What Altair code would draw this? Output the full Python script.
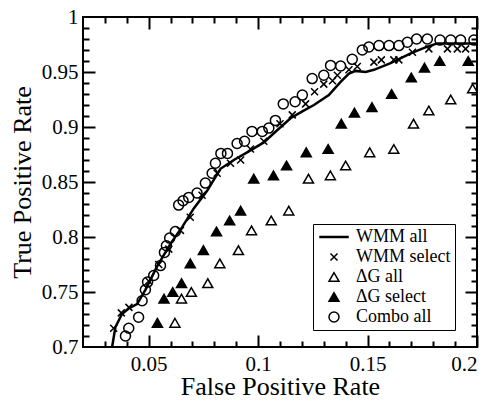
import altair as alt
import pandas as pd

# ---------------- data ----------------
SERIES = ["WMM all", "WMM select", "ΔG all", "ΔG select", "Combo all"]

wmm_all_fpr = [0.0333, 0.0348, 0.0378, 0.0409, 0.0447, 0.0485, 0.0538, 0.0600, 0.0653,
               0.0706, 0.0767, 0.0828, 0.0889, 0.0950, 0.1026, 0.1087, 0.1148, 0.1200,
               0.1255, 0.1323, 0.1377, 0.1415, 0.1445, 0.1491, 0.1529, 0.1605, 0.1697,
               0.1773, 0.1819, 0.1910, 0.2000]
wmm_all_tpr = [0.700, 0.718, 0.730, 0.735, 0.739, 0.752, 0.773, 0.794, 0.809,
               0.826, 0.842, 0.862, 0.870, 0.877, 0.886, 0.897, 0.908, 0.914,
               0.920, 0.929, 0.941, 0.9485, 0.951, 0.950, 0.952, 0.958, 0.967,
               0.973, 0.976, 0.976, 0.976]

wmm_sel_fpr = [0.0340, 0.0375, 0.0410, 0.0500, 0.0546, 0.0592, 0.0645, 0.0690, 0.0744,
               0.0813, 0.0874, 0.0920, 0.0965, 0.1026, 0.1100, 0.1156, 0.1217, 0.1258,
               0.1300, 0.1340, 0.1362, 0.1415, 0.1453, 0.1529, 0.1563, 0.1620, 0.1643,
               0.1705, 0.1780, 0.1865, 0.1910, 0.1948]
wmm_sel_tpr = [0.717, 0.731, 0.736, 0.760, 0.775, 0.789, 0.806, 0.818, 0.838,
               0.858, 0.867, 0.870, 0.880, 0.887, 0.903, 0.911, 0.921, 0.932,
               0.939, 0.942, 0.947, 0.952, 0.955, 0.959, 0.961, 0.961, 0.961,
               0.968, 0.971, 0.971, 0.971, 0.971]

dg_all_fpr = [0.062, 0.065, 0.0695, 0.077, 0.0825, 0.091, 0.097, 0.106, 0.114,
              0.123, 0.133, 0.140, 0.151, 0.162, 0.171, 0.178, 0.188, 0.198]
dg_all_tpr = [0.722, 0.744, 0.750, 0.758, 0.776, 0.788, 0.806, 0.815, 0.824,
              0.853, 0.856, 0.865, 0.877, 0.880, 0.903, 0.915, 0.925, 0.935]

dg_sel_fpr = [0.054, 0.057, 0.061, 0.065, 0.069, 0.075, 0.081, 0.087, 0.092, 0.098,
              0.107, 0.113, 0.122, 0.132, 0.138, 0.144, 0.152, 0.161, 0.170, 0.176,
              0.183, 0.196]
dg_sel_tpr = [0.722, 0.744, 0.750, 0.758, 0.776, 0.788, 0.805, 0.815, 0.824, 0.853,
              0.856, 0.865, 0.877, 0.880, 0.903, 0.913, 0.918, 0.930, 0.945, 0.954,
              0.960, 0.960]

combo_fpr = [0.0394, 0.0409, 0.0454, 0.0470, 0.0485, 0.0495, 0.0523, 0.0554, 0.0572,
             0.0581, 0.0596, 0.0622, 0.0637, 0.0657, 0.0683, 0.0721, 0.0759, 0.0790,
             0.0805, 0.0830, 0.0860, 0.0904, 0.0938, 0.0972, 0.1019, 0.1049, 0.1079,
             0.1115, 0.1169, 0.1202, 0.1247, 0.1300, 0.1331, 0.1377, 0.1430, 0.1476,
             0.1506, 0.1552, 0.1598, 0.1643, 0.1682, 0.1724, 0.1773, 0.1831, 0.1880,
             0.1925, 0.1986]
combo_tpr = [0.710, 0.717, 0.727, 0.742, 0.752, 0.759, 0.765, 0.774, 0.786,
             0.792, 0.799, 0.805, 0.829, 0.833, 0.836, 0.840, 0.849, 0.858,
             0.867, 0.876, 0.876, 0.885, 0.887, 0.896, 0.896, 0.899, 0.906,
             0.921, 0.923, 0.929, 0.944, 0.947, 0.956, 0.9555, 0.9615, 0.970,
             0.9727, 0.974, 0.974, 0.974, 0.977, 0.980, 0.980, 0.979, 0.979,
             0.979, 0.979]

x_major = [0.05, 0.1, 0.15, 0.2]
x_minor = [0.03, 0.04, 0.06, 0.07, 0.08, 0.09, 0.11, 0.12, 0.13, 0.14,
           0.16, 0.17, 0.18, 0.19]
y_major = [0.75, 0.8, 0.85, 0.9, 0.95]
y_minor = [0.71, 0.72, 0.73, 0.74, 0.76, 0.77, 0.78, 0.79, 0.81, 0.82, 0.83, 0.84,
           0.86, 0.87, 0.88, 0.89, 0.91, 0.92, 0.93, 0.94, 0.96, 0.97, 0.98, 0.99]
x_labels = [0.05, 0.1, 0.15, 0.2]
y_labels = [0.7, 0.75, 0.8, 0.85, 0.9, 0.95, 1.0]
X_DOMAIN = [0.02, 0.2]
Y_DOMAIN = [0.7, 1.0]

# ---------------- tables ----------------
line_df = pd.DataFrame({"fpr": wmm_all_fpr, "tpr": wmm_all_tpr,
                        "i": list(range(len(wmm_all_fpr)))})
frames = []
for name, xs, ys in [("WMM select", wmm_sel_fpr, wmm_sel_tpr),
                     ("ΔG all", dg_all_fpr, dg_all_tpr),
                     ("ΔG select", dg_sel_fpr, dg_sel_tpr),
                     ("Combo all", combo_fpr, combo_tpr)]:
    frames.append(pd.DataFrame({"fpr": xs, "tpr": ys, "series": name}))
pts_df = pd.concat(frames, ignore_index=True)

W, H = 394, 330
FONT = "Liberation Serif"

xscale = alt.Scale(domain=X_DOMAIN, nice=False, zero=False)
yscale = alt.Scale(domain=Y_DOMAIN, nice=False, zero=False)
xaxis = alt.Axis(title="False Positive Rate", values=x_labels, format="~g",
                 labelPadding=6, titleBaseline="alphabetic", titleY=47, ticks=False)
yaxis = alt.Axis(title="True Positive Rate", values=y_labels, format="~g",
                 labelPadding=5, titleBaseline="alphabetic", titleX=-53, ticks=False)

LINE_SYM = "M-2.8,-0.1L2.8,-0.1L2.8,0.1L-2.8,0.1Z"
CROSS = "M-0.7,-0.7L0.7,0.7M-0.7,0.7L0.7,-0.7"

legend = alt.Legend(orient="none", legendX=230, legendY=207, title=None,
                    padding=4, symbolOffset=8, labelOffset=13, rowPadding=2,
                    strokeColor="black", fillColor="white",
                    symbolStrokeWidth=1.5,
                    symbolSize=100, labelFont=FONT, labelFontSize=18,
                    labelColor="black")

line = alt.Chart(line_df).mark_line(color="black", strokeWidth=2.5, clip=True).encode(
    x=alt.X("fpr:Q", scale=xscale, axis=xaxis),
    y=alt.Y("tpr:Q", scale=yscale, axis=yaxis),
    order="i:Q",
)

points = alt.Chart(pts_df).mark_point(filled=True, strokeWidth=1.5,
                                      size=100, opacity=1, clip=True).encode(
    x=alt.X("fpr:Q", scale=xscale, axis=None),
    y=alt.Y("tpr:Q", scale=yscale, axis=None),
    shape=alt.Shape("series:N", scale=alt.Scale(
        domain=SERIES, range=[LINE_SYM, CROSS, "triangle-up", "triangle-up", "circle"]),
        legend=legend),
    fill=alt.Fill("series:N", scale=alt.Scale(
        domain=SERIES, range=["black", "black", "transparent", "black", "transparent"]),
        legend=legend),
    stroke=alt.Stroke("series:N", scale=alt.Scale(
        domain=SERIES, range=["black", "black", "black", "black", "black"]),
        legend=legend),
)


# inward frame ticks: extra axes, flipped to the opposite edge with a negative offset
def tick_axis(orient, offset, values, size):
    return alt.Axis(orient=orient, offset=offset, values=values, tickSize=size,
                    ticks=True, labels=False, domain=False, grid=False, title=None,
                    tickColor="black", tickWidth=2)


def tick_layer(x_orient, y_orient, xv, yv, size):
    return alt.Chart(line_df).mark_point(opacity=0).encode(
        x=alt.X("fpr:Q", scale=xscale, axis=tick_axis(x_orient, -H, xv, size)),
        y=alt.Y("tpr:Q", scale=yscale, axis=tick_axis(y_orient, -W, yv, size)),
    )


MAJ, MIN = 12, 6
tick_layers = [
    tick_layer("top", "right", x_major, y_major, MAJ),     # bottom & left edges
    tick_layer("top", "right", x_minor, y_minor, MIN),
    tick_layer("bottom", "left", x_major, y_major, MAJ),   # top & right edges
    tick_layer("bottom", "left", x_minor, y_minor, MIN),
]

chart = alt.layer(line, points, *tick_layers).resolve_axis(
    x="independent", y="independent"
).properties(
    width=W, height=H,
    autosize=alt.AutoSizeParams(type="none"),
    padding={"left": 83, "top": 17, "right": 16, "bottom": 52},
    background="white",
).configure_axis(
    labelFont=FONT, labelFontSize=21, labelColor="black",
    titleFont=FONT, titleFontSize=26, titleFontWeight="normal", titleColor="black",
    domain=False, grid=False,
).configure_view(stroke="black", strokeWidth=2)

chart.save("out.html", embed_options={"renderer": "svg", "actions": False})
